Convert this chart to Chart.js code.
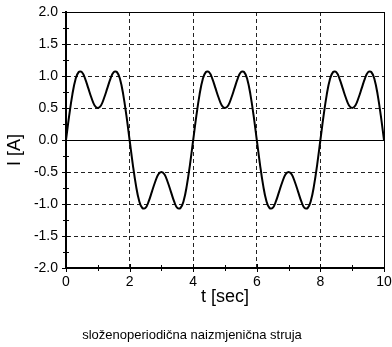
<!DOCTYPE html>
<html>
<head>
<meta charset="utf-8">
<script src="https://cdn.jsdelivr.net/npm/chart.js@4.4.0/dist/chart.umd.min.js"></script>
<style>
html, body { margin: 0; padding: 0; background: #fff; }
#wrap { width: 392px; height: 347px; }
</style>
</head>
<body>
<div id="wrap"><canvas id="struja"></canvas></div>
<script>
var timeStep = 0.1;
var current = [
    0, 0.38, 0.71, 0.95, 1.063, 1.061, 0.96, 0.81, 0.66, 0.54,
    0.50, 0.54, 0.66, 0.81, 0.96, 1.061, 1.063, 0.95, 0.71, 0.38,
    0, -0.38, -0.71, -0.95, -1.063, -1.061, -0.96, -0.81, -0.66, -0.54,
    -0.50, -0.54, -0.66, -0.81, -0.96, -1.061, -1.063, -0.95, -0.71, -0.38,
    0, 0.38, 0.71, 0.95, 1.063, 1.061, 0.96, 0.81, 0.66, 0.54,
    0.50, 0.54, 0.66, 0.81, 0.96, 1.061, 1.063, 0.95, 0.71, 0.38,
    0, -0.38, -0.71, -0.95, -1.063, -1.061, -0.96, -0.81, -0.66, -0.54,
    -0.50, -0.54, -0.66, -0.81, -0.96, -1.061, -1.063, -0.95, -0.71, -0.38,
    0, 0.38, 0.71, 0.95, 1.063, 1.061, 0.96, 0.81, 0.66, 0.54,
    0.50, 0.54, 0.66, 0.81, 0.96, 1.061, 1.063, 0.95, 0.71, 0.38,
    0
];
var xLabelStep = 2;      // labelled x ticks, minor ticks every 1
var yLabelStep = 0.5;    // labelled y ticks, minor ticks every 0.25
var xTitle = 't [sec]';
var yTitle = 'I [A]    '; // trailing spaces push the label a bit lower, as in the original
var caption = 'složenoperiodična naizmjenična struja';

var FONT = 'Arial, "Liberation Sans", sans-serif';

function isMajor(v, step) {
    var r = v / step;
    return Math.abs(r - Math.round(r)) < 1e-9;
}

var points = current.map(function (v, i) {
    return { x: +(i * timeStep).toFixed(1), y: v };
});

// small tick marks that cross the axis lines, like the original plot
var crossTicks = {
    id: 'crossTicks',
    afterDraw: function (chart) {
        var ctx = chart.ctx;
        var area = chart.chartArea;
        var x = chart.scales.x;
        var y = chart.scales.y;
        ctx.save();
        ctx.strokeStyle = '#000';
        ctx.lineWidth = 1;
        ctx.beginPath();
        x.ticks.forEach(function (t) {
            var px = Math.round(x.getPixelForValue(t.value)) + 0.5;
            var len = isMajor(t.value, xLabelStep) ? 4 : 3;
            ctx.moveTo(px, area.bottom - len);
            ctx.lineTo(px, area.bottom + len);
        });
        y.ticks.forEach(function (t) {
            var py = Math.round(y.getPixelForValue(t.value)) + 0.5;
            var len = isMajor(t.value, yLabelStep) ? 4 : 3;
            ctx.moveTo(area.left - len, py);
            ctx.lineTo(area.left + len, py);
        });
        ctx.stroke();
        ctx.restore();
    }
};

new Chart(document.getElementById('struja').getContext('2d'), {
    type: 'line',
    data: {
        datasets: [
            {
                data: points,
                borderColor: '#000',
                borderWidth: 2,
                pointRadius: 0,
                tension: 0.4,
                fill: false
            }
        ]
    },
    options: {
        responsive: true,
        maintainAspectRatio: false,
        animation: false,
        devicePixelRatio: 1,
        layout: { padding: { top: 12, right: 8, left: 0, bottom: 0 } },
        plugins: {
            legend: { display: false },
            tooltip: { enabled: false },
            title: {
                display: true,
                position: 'bottom',
                text: caption,
                color: '#000',
                font: { family: FONT, size: 13, weight: 'normal' },
                padding: { top: 0, bottom: 4 }
            }
        },
        scales: {
            x: {
                type: 'linear',
                min: 0,
                max: 10,
                ticks: {
                    stepSize: 1,
                    autoSkip: false,
                    maxRotation: 0,
                    padding: 6,
                    color: '#000',
                    font: { family: FONT, size: 14 },
                    callback: function (v) { return isMajor(v, xLabelStep) ? String(v) : ''; }
                },
                grid: {
                    drawTicks: false,
                    lineWidth: 1,
                    color: function (c) {
                        if (!c.tick) return '#000';
                        if (c.tick.value === 10) return '#000';
                        return isMajor(c.tick.value, xLabelStep) ? '#222' : 'rgba(0,0,0,0)';
                    }
                },
                border: {
                    color: '#000',
                    width: 2,
                    dash: function (c) {
                        if (!c.tick || c.tick.value === 10 || c.tick.value === 0) return [];
                        return [4, 3];
                    }
                },
                title: {
                    display: true,
                    text: xTitle,
                    color: '#000',
                    font: { family: FONT, size: 18 },
                    padding: { top: 0, bottom: 19.6 }
                },
                afterFit: function (s) {
                    s.height = 59.4;
                    s.paddingLeft = 0;
                    s.paddingRight = 0;
                }
            },
            y: {
                min: -2,
                max: 2,
                ticks: {
                    stepSize: 0.25,
                    autoSkip: false,
                    padding: 8,
                    color: '#000',
                    font: { family: FONT, size: 14 },
                    callback: function (v) { return isMajor(v, yLabelStep) ? v.toFixed(1) : ''; }
                },
                grid: {
                    drawTicks: false,
                    lineWidth: 1,
                    color: function (c) {
                        if (!c.tick) return '#000';
                        if (c.tick.value === 2 || c.tick.value === 0) return '#000';
                        return isMajor(c.tick.value, yLabelStep) ? '#222' : 'rgba(0,0,0,0)';
                    }
                },
                border: {
                    color: '#000',
                    width: 2,
                    dash: function (c) {
                        if (!c.tick || c.tick.value === 2 || c.tick.value === 0 || c.tick.value === -2) return [];
                        return [4, 3];
                    }
                },
                title: {
                    display: true,
                    text: yTitle,
                    color: '#000',
                    font: { family: FONT, size: 18 },
                    padding: { top: 4, bottom: 0 }
                },
                afterFit: function (s) {
                    s.width = 66;
                    s.paddingTop = 0;
                    s.paddingBottom = 0;
                }
            }
        }
    },
    plugins: [crossTicks]
});
</script>
</body>
</html>
